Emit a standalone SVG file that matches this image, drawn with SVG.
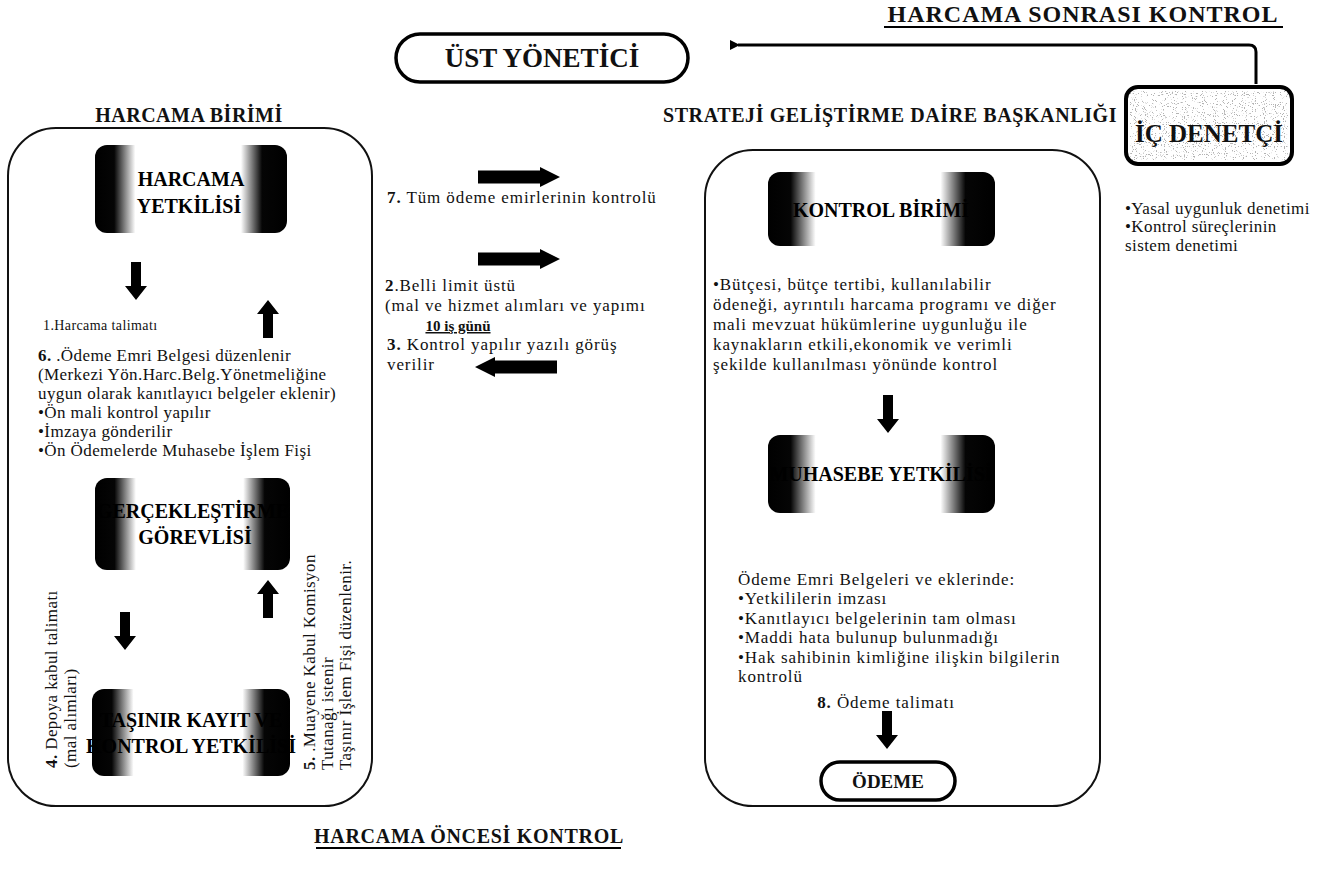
<svg xmlns="http://www.w3.org/2000/svg" width="1336" height="872" viewBox="0 0 1336 872">
<style>
.t{font-family:"Liberation Serif","Times New Roman",serif;font-size:17px;fill:#111;letter-spacing:0.4px}
.w{letter-spacing:0.9px}
.s{font-size:14px}
.h{font-family:"Liberation Serif","Times New Roman",serif;font-weight:bold;fill:#111}
.b{font-weight:bold}
.n{font-family:"Liberation Serif","Times New Roman",serif;font-weight:bold;font-size:20px;fill:#000;text-anchor:middle}
.frame{fill:none;stroke:#111;stroke-width:2}
.pill{fill:#fff;stroke:#000;stroke-width:3.5}
.ba{fill:#000}
.ln{fill:none;stroke:#000;stroke-width:3}
</style>
<defs>
<linearGradient id="dark" x1="0" y1="0" x2="1" y2="0">
<stop offset="0" stop-color="#000"/>
<stop offset="0.10" stop-color="#050505"/>
<stop offset="0.21" stop-color="#fff"/>
<stop offset="0.76" stop-color="#fff"/>
<stop offset="0.87" stop-color="#050505"/>
<stop offset="1" stop-color="#000"/>
</linearGradient>
<filter id="speckle" x="0" y="0" width="100%" height="100%">
<feTurbulence type="fractalNoise" baseFrequency="0.9" numOctaves="1" seed="4"/>
<feColorMatrix type="matrix" values="0 0 0 0 0.45  0 0 0 0 0.45  0 0 0 0 0.45  14 0 0 0 -8.5"/>
<feComposite in2="SourceGraphic" operator="in"/>
</filter>
<path id="down" d="M-5,0 H5 V24 H11 L0,38 L-11,24 H-5 Z"/>
<path id="right" d="M0,-6.5 H62 V-10 L82,0 L62,10 V6.5 H0 Z"/>
<marker id="ah" markerWidth="10" markerHeight="10" refX="2" refY="5" orient="auto" markerUnits="userSpaceOnUse">
<path d="M10,0 L0,5 L10,10 Z" fill="#000"/>
</marker>
</defs>
<rect width="1336" height="872" fill="#fff"/>

<!-- titles -->
<g id="title-after">
<text class="h" x="1083" y="22" font-size="24" text-anchor="middle" letter-spacing="1">HARCAMA SONRASI KONTROL</text>
<line x1="884" y1="27" x2="1283" y2="27" stroke="#000" stroke-width="2"/>
</g>
<g id="title-before">
<text class="h" x="469" y="843" font-size="20" text-anchor="middle" letter-spacing="0.7">HARCAMA ÖNCESİ KONTROL</text>
<line x1="316" y1="848" x2="621" y2="848" stroke="#000" stroke-width="2"/>
</g>

<!-- frames -->
<g id="harcama-birimi">
<text class="h" x="189" y="122" font-size="20" text-anchor="middle" letter-spacing="0.5">HARCAMA BİRİMİ</text>
<rect class="frame" x="8" y="128" width="364" height="678" rx="48" ry="48"/>
</g>
<g id="strateji">
<text class="h" x="890" y="122" font-size="20" text-anchor="middle" letter-spacing="0.6">STRATEJİ GELİŞTİRME DAİRE BAŞKANLIĞI</text>
<rect class="frame" x="705" y="150" width="395" height="656" rx="48" ry="48"/>
</g>

<!-- nodes -->
<g id="ust-yonetici">
<rect class="pill" x="396" y="34" width="292" height="48" rx="24" ry="24"/>
<text class="h" x="542" y="67" font-size="27" text-anchor="middle">ÜST YÖNETİCİ</text>
</g>
<g id="ic-denetci">
<rect x="1126" y="87" width="166" height="77" rx="12" fill="#fff" stroke="#000" stroke-width="4"/>
<rect x="1130" y="91" width="158" height="69" fill="#fff" filter="url(#speckle)"/>
<text class="h" x="1209" y="142" font-size="25" text-anchor="middle">İÇ DENETÇİ</text>
</g>
<g id="harcama-yetkilisi">
<rect x="95" y="145" width="192" height="88" rx="12" fill="url(#dark)"/>
<text class="n" x="191" y="186" font-size="22">HARCAMA</text>
<text class="n" x="189" y="213" font-size="22">YETKİLİSİ</text>
</g>
<g id="gerceklestirme">
<rect x="95" y="478" width="195" height="92" rx="12" fill="url(#dark)"/>
<text class="n" x="193" y="518">GERÇEKLEŞTİRME</text>
<text class="n" x="195" y="544">GÖREVLİSİ</text>
</g>
<g id="tasinir">
<rect x="92" y="689" width="198" height="87" rx="12" fill="url(#dark)"/>
<text class="n" x="191" y="727">TAŞINIR KAYIT VE</text>
<text class="n" x="191" y="753">KONTROL YETKİLİSİ</text>
</g>
<g id="kontrol-birimi">
<rect x="768" y="172" width="227" height="74" rx="12" fill="url(#dark)"/>
<text class="n" x="881" y="217">KONTROL BİRİMİ</text>
</g>
<g id="muhasebe">
<rect x="768" y="435" width="227" height="78" rx="12" fill="url(#dark)"/>
<text class="n" x="881" y="481">MUHASEBE YETKİLİSİ</text>
</g>
<g id="odeme">
<rect class="pill" x="821" y="762" width="134" height="38" rx="19" ry="19"/>
<text class="h" x="888" y="788" font-size="19" text-anchor="middle">ÖDEME</text>
</g>

<!-- texts -->
<g id="left-texts">
<text class="t s" x="43" y="330">1.Harcama talimatı</text>
<text class="t" x="38" y="361"><tspan class="b">6.</tspan> .Ödeme Emri Belgesi  düzenlenir</text>
<text class="t" x="38" y="380">(Merkezi Yön.Harc.Belg.Yönetmeliğine</text>
<text class="t" x="38" y="399">uygun olarak kanıtlayıcı belgeler eklenir)</text>
<text class="t" x="38" y="418">•Ön mali kontrol yapılır</text>
<text class="t" x="38" y="437">•İmzaya gönderilir</text>
<text class="t" x="38" y="456">•Ön Ödemelerde Muhasebe İşlem Fişi</text>
<g transform="translate(57,768) rotate(-90)">
<text class="t" x="0" y="0"><tspan class="b">4.</tspan> Depoya kabul talimatı</text>
<text class="t" x="0" y="19">(mal alımları)</text>
</g>
<g transform="translate(315,770) rotate(-90)">
<text class="t" x="0" y="0"><tspan class="b">5.</tspan> .Muayene Kabul Komisyon</text>
<text class="t" x="0" y="18">Tutanağı istenir</text>
<text class="t" x="0" y="36">Taşınır İşlem Fişi düzenlenir.</text>
</g>
</g>
<g id="middle-texts">
<text class="t w" x="387" y="203"><tspan class="b">7.</tspan> Tüm ödeme emirlerinin kontrolü</text>
<text class="t w" x="385" y="291"><tspan class="b">2</tspan>.Belli limit üstü</text>
<text class="t w" x="385" y="311">(mal ve hizmet alımları ve yapımı</text>
<text class="h" x="458" y="331" font-size="15" text-anchor="middle" text-decoration="underline">10 iş günü</text>
<text class="t w" x="387" y="350"><tspan class="b">3.</tspan> Kontrol yapılır yazılı görüş</text>
<text class="t w" x="387" y="370">verilir</text>
</g>
<g id="right-texts">
<text class="t w" x="713" y="290">•Bütçesi, bütçe tertibi, kullanılabilir</text>
<text class="t w" x="713" y="310">ödeneği, ayrıntılı harcama programı ve diğer</text>
<text class="t w" x="713" y="330">mali mevzuat hükümlerine uygunluğu ile</text>
<text class="t w" x="713" y="350">kaynakların etkili,ekonomik ve verimli</text>
<text class="t w" x="713" y="370">şekilde kullanılması yönünde kontrol</text>
<text class="t w" x="738" y="585">Ödeme Emri Belgeleri ve eklerinde:</text>
<text class="t w" x="738" y="604">•Yetkililerin imzası</text>
<text class="t w" x="738" y="624">•Kanıtlayıcı belgelerinin tam olması</text>
<text class="t w" x="738" y="643">•Maddi hata bulunup bulunmadığı</text>
<text class="t w" x="738" y="663">•Hak sahibinin kimliğine ilişkin bilgilerin</text>
<text class="t w" x="738" y="682">kontrolü</text>
<text class="t w" x="886" y="708" text-anchor="middle"><tspan class="b">8.</tspan> Ödeme talimatı</text>
</g>
<g id="audit-texts">
<text class="t" x="1125" y="214" font-size="15">•Yasal uygunluk denetimi</text>
<text class="t" x="1125" y="232" font-size="15">•Kontrol süreçlerinin</text>
<text class="t" x="1125" y="251" font-size="15">sistem denetimi</text>
</g>

<!-- connectors -->
<g id="connectors">
<path class="ln" d="M1256,84 V52 Q1256,45 1249,45 H738" marker-end="url(#ah)"/>
<use href="#down" class="ba" transform="translate(136,262)"/>
<use href="#down" class="ba" transform="translate(268,338) rotate(180)"/>
<use href="#down" class="ba" transform="translate(125,612)"/>
<use href="#down" class="ba" transform="translate(268,618) rotate(180)"/>
<use href="#right" class="ba" transform="translate(478,177)"/>
<use href="#right" class="ba" transform="translate(478,259)"/>
<use href="#right" class="ba" transform="translate(557,367) rotate(180)"/>
<use href="#down" class="ba" transform="translate(888,395)"/>
<use href="#down" class="ba" transform="translate(887,711)"/>
</g>
</svg>
